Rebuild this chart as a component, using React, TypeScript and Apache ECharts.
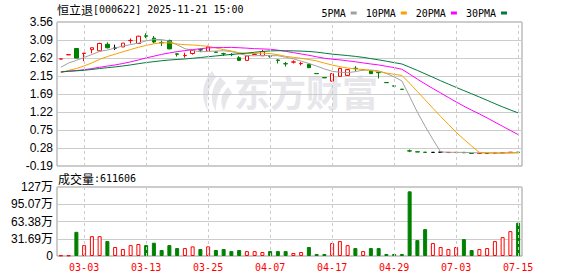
import React, { useEffect, useRef } from 'react';
import * as echarts from 'echarts';

// ---------- data ----------
const dates = [
  '02-26', '02-27', '02-28', '03-03', '03-04', '03-05', '03-06', '03-07', '03-10', '03-11',
  '03-12', '03-13', '03-14', '03-17', '03-18', '03-19', '03-20', '03-21', '03-24', '03-25',
  '03-26', '03-27', '03-28', '03-31', '04-01', '04-02', '04-03', '04-07', '04-08', '04-09',
  '04-10', '04-11', '04-14', '04-15', '04-16', '04-17', '04-18', '04-21', '04-22', '04-23',
  '04-24', '04-25', '04-28', '04-29', '04-30', '06-25', '06-26', '06-27', '06-30', '07-01',
  '07-02', '07-03', '07-04', '07-07', '07-08', '07-09', '07-10', '07-11', '07-14', '07-15',
];
const labelDates = ['03-03', '03-13', '03-25', '04-07', '04-17', '04-29', '07-03', '07-15'];

const opens = [
  2.595, 2.705, 2.87, 2.74, 2.84, 2.81, 2.98, 2.88, 2.91, 3.075,
  3.0, 3.2, 3.14, 3.025, 3.08, 2.73, 2.685, 2.74, 2.84, 2.8,
  2.78, 2.735, 2.715, 2.63, 2.56, 2.715, 2.68, 2.68, 2.57, 2.475,
  2.515, 2.475, 2.46, 2.22, 2.115, 2.02, 2.145, 2.17, 2.355, 2.315,
  2.29, 2.25, 1.985, 1.895, 1.81, 0.205, 0.18, 0.17, 0.165, 0.17,
  0.16, 0.16, 0.165, 0.14, 0.135, 0.135, 0.14, 0.15, 0.16, 0.17,
];
const closes = [
  2.6, 2.71, 2.62, 2.75, 2.89, 3.0, 2.89, 2.88, 3.01, 3.08,
  3.19, 3.19, 3.04, 3.02, 2.86, 2.72, 2.69, 2.82, 2.83, 2.91,
  2.77, 2.73, 2.71, 2.56, 2.675, 2.72, 2.79, 2.67, 2.56, 2.47,
  2.52, 2.48, 2.37, 2.215, 2.105, 2.215, 2.35, 2.32, 2.345, 2.32,
  2.215, 2.24, 1.98, 1.89, 1.805, 0.2, 0.175, 0.165, 0.165, 0.17,
  0.165, 0.165, 0.155, 0.135, 0.14, 0.135, 0.15, 0.16, 0.17, 0.165,
];
const lows = [
  2.595, 2.705, 2.62, 2.54, 2.745, 2.8, 2.87, 2.83, 2.91, 3.0,
  3.0, 3.14, 3.005, 2.935, 2.85, 2.66, 2.63, 2.71, 2.78, 2.79,
  2.76, 2.675, 2.67, 2.55, 2.555, 2.7, 2.675, 2.63, 2.48, 2.4,
  2.48, 2.43, 2.36, 2.215, 2.105, 2.01, 2.14, 2.16, 2.28, 2.31,
  2.21, 2.09, 1.98, 1.89, 1.805, 0.17, 0.175, 0.165, 0.165, 0.17,
  0.16, 0.16, 0.155, 0.135, 0.135, 0.135, 0.14, 0.15, 0.16, 0.165,
];
const highs = [
  2.6, 2.71, 2.87, 2.75, 2.89, 3.02, 3.03, 2.97, 3.01, 3.13,
  3.2, 3.265, 3.195, 3.075, 3.1, 2.74, 2.76, 2.83, 2.87, 2.94,
  2.79, 2.76, 2.75, 2.67, 2.68, 2.74, 2.84, 2.68, 2.59, 2.52,
  2.56, 2.52, 2.48, 2.22, 2.115, 2.22, 2.37, 2.33, 2.41, 2.33,
  2.3, 2.255, 1.985, 1.895, 1.81, 0.24, 0.18, 0.17, 0.165, 0.17,
  0.165, 0.165, 0.165, 0.14, 0.14, 0.135, 0.15, 0.16, 0.17, 0.17,
];
// closes of the 29 sessions before the window (needed for the moving averages)
const priorCloses = [
  2.22, 2.25, 2.28, 2.3, 2.27, 2.24, 2.26, 2.29, 2.25, 2.24,
  2.3, 2.33, 2.31, 2.28, 2.32, 2.29, 2.26, 2.27, 2.24, 2.2, 2.11,
  2.14, 2.08, 2.1, 2.06,
  2.16, 2.27, 2.38, 2.5,
];
// volume, 万手
const volumes = [
  1.0, 1.0, 44.4, 20.0, 36.5, 36.5, 27.4, 16.5, 12.8, 20.0,
  22.0, 20.0, 24.4, 11.0, 20.0, 14.6, 14.6, 17.7, 12.8, 17.7,
  11.0, 12.8, 9.0, 11.0, 9.0, 9.0, 7.3, 9.0, 9.0, 9.0,
  5.5, 7.3, 16.5, 3.7, 3.7, 23.8, 27.4, 20.0, 14.6, 9.0,
  14.6, 14.6, 3.7, 3.7, 3.7, 118.8, 29.2, 49.4, 23.8, 16.5,
  12.8, 16.5, 31.0, 11.0, 12.8, 14.6, 27.4, 34.7, 45.7, 61.1606,
];
const priceTickLabels = ['-0.19', '0.28', '0.75', '1.22', '1.69', '2.15', '2.62', '3.09', '3.56'];
const volTickLabels = ['0', '31.69万', '63.38万', '95.07万', '127万'];
const maPeriods = [5, 10, 20, 30];
const maNames = ['5PMA', '10PMA', '20PMA', '30PMA'];
const maColors = ['#a0a0a0', '#f5a300', '#ff00ff', '#007a3d'];

// ---------- helpers ----------
const PRICE_MIN = -0.19;
const PRICE_STEP = 0.46875;
const VOL_STEP = 31.69;
const RED = '#ff0000';
const GREEN = '#008000';
const MONO = "'DejaVu Sans Mono', monospace";
const CJK = "'Noto Sans CJK SC', sans-serif";
const SANS = "'Liberation Sans', 'Noto Sans CJK SC', sans-serif";

const shift = (p: number) => +(p - PRICE_MIN).toFixed(4);

function movingAverage(n: number): number[] {
  const all = priorCloses.concat(closes);
  const base = priorCloses.length;
  return closes.map((_, i) => {
    let s = 0;
    for (let k = base + i - n + 1; k <= base + i; k++) s += all[k];
    return shift(s / n);
  });
}

const logoPath =
  'M14 0 C4 12 2 26 10 40 C8 28 10 16 18 6 Z M22 6 C12 18 12 30 18 40 C18 30 20 20 28 12 Z M30 16 C22 24 22 32 26 40 C28 32 30 26 34 22 Z';
let logoRegistered = false;

export default function App() {
  const ref = useRef<HTMLDivElement>(null);

  useEffect(() => {
    if (!ref.current) return;
    if (!logoRegistered) {
      echarts.graphic.registerShape('emlogo', echarts.graphic.extendPath(logoPath, {}));
      logoRegistered = true;
    }
    const chart = echarts.init(ref.current, undefined, { renderer: 'svg' });

    const candleData = opens.map((o, i) => [shift(o), shift(closes[i]), shift(lows[i]), shift(highs[i])]);
    const volData = volumes.map((v, i) => ({
      value: v,
      itemStyle:
        closes[i] >= opens[i]
          ? { color: '#ffffff', borderColor: RED, borderWidth: 1 }
          : { color: GREEN, borderColor: GREEN, borderWidth: 1 },
    }));
    const vLines = labelDates.map((d) => ({ xAxis: d }));
    const markLineStyle = {
      silent: true,
      symbol: ['none', 'none'],
      label: { show: false },
      lineStyle: { color: '#cccccc', type: [3, 3] as any, width: 1 },
      data: vLines,
      animation: false,
    };

    const lastVol = Math.round(volumes[volumes.length - 1] * 10000);

    chart.setOption({
      animation: false,
      backgroundColor: '#ffffff',
      legend: {
        data: maNames,
        right: 66,
        top: 3,
        icon: 'rect',
        itemWidth: 6,
        itemHeight: 3,
        itemGap: 9,
        align: 'right',
        selectedMode: false,
        textStyle: { fontFamily: MONO, fontSize: 10, color: '#000' },
      },
      grid: [
        { left: 57, right: 56, top: 22, height: 144, show: true, borderColor: '#999', borderWidth: 1 },
        { left: 57, right: 56, top: 187, height: 69, show: true, borderColor: '#999', borderWidth: 1 },
      ],
      xAxis: [
        {
          type: 'category',
          gridIndex: 0,
          data: dates,
          boundaryGap: true,
          axisLine: { show: false },
          axisTick: { show: false },
          axisLabel: { show: false },
          splitLine: { show: false },
        },
        {
          type: 'category',
          gridIndex: 1,
          data: dates,
          boundaryGap: true,
          axisLine: { show: false },
          axisTick: { show: false },
          splitLine: { show: false },
          axisLabel: {
            interval: (_i: number, v: string) => labelDates.includes(v),
            color: RED,
            fontFamily: MONO,
            fontSize: 10,
            margin: 6,
          },
        },
      ],
      yAxis: [
        {
          type: 'value',
          gridIndex: 0,
          min: 0,
          max: 8 * PRICE_STEP,
          interval: PRICE_STEP,
          axisLine: { show: false },
          axisTick: { show: false },
          splitLine: { show: true, lineStyle: { color: '#cccccc', width: 1 } },
          axisLabel: {
            formatter: (v: number) => priceTickLabels[Math.round(v / PRICE_STEP)] ?? '',
            color: '#000',
            fontFamily: SANS,
            fontSize: 12,
            margin: 4,
          },
        },
        {
          type: 'value',
          gridIndex: 1,
          min: 0,
          max: 4 * VOL_STEP,
          interval: VOL_STEP,
          axisLine: { show: false },
          axisTick: { show: false },
          splitLine: { show: true, lineStyle: { color: '#cccccc', width: 1 } },
          axisLabel: {
            formatter: (v: number) => volTickLabels[Math.round(v / VOL_STEP)] ?? '',
            color: '#000',
            fontFamily: SANS,
            fontSize: 12,
            margin: 4,
          },
        },
      ],
      graphic: [
        {
          type: 'emlogo',
          x: 198,
          y: 71,
          scaleX: 1,
          scaleY: 1,
          silent: true,
          z: 0,
          style: { fill: '#e6e6eb' },
        },
        {
          type: 'text',
          x: 234,
          y: 91,
          silent: true,
          z: 0,
          style: {
            text: '东方财富',
            fill: '#e6e6eb',
            font: `bold 36px ${CJK}`,
            verticalAlign: 'middle',
          },
        },
        {
          type: 'text',
          x: 57,
          y: 9,
          silent: true,
          style: {
            text: '{a|恒立退}{b|[000622] 2025-11-21 15:00}',
            verticalAlign: 'middle',
            rich: {
              a: { fontFamily: CJK, fontSize: 12, fill: '#000', color: '#000' },
              b: { fontFamily: MONO, fontSize: 10, fill: '#000', color: '#000' },
            },
          },
        },
        {
          type: 'text',
          x: 58,
          y: 178,
          silent: true,
          style: {
            text: `{a|成交量}{b|:${lastVol}}`,
            verticalAlign: 'middle',
            rich: {
              a: { fontFamily: CJK, fontSize: 12, fill: '#000', color: '#000' },
              b: { fontFamily: MONO, fontSize: 10, fill: '#000', color: '#000' },
            },
          },
        },
      ],
      series: [
        {
          name: 'K',
          type: 'candlestick',
          xAxisIndex: 0,
          yAxisIndex: 0,
          data: candleData,
          barWidth: 4,
          z: 2,
          itemStyle: {
            color: '#ffffff',
            color0: GREEN,
            borderColor: RED,
            borderColor0: GREEN,
            borderColorDoji: '#000000',
            borderWidth: 1,
          },
          markLine: markLineStyle,
        },
        ...maPeriods.map((n, k) => ({
          name: maNames[k],
          type: 'line',
          xAxisIndex: 0,
          yAxisIndex: 0,
          data: movingAverage(n),
          symbol: 'none',
          smooth: false,
          z: 3,
          lineStyle: { width: 1, color: maColors[k] },
          itemStyle: { color: maColors[k] },
        })),
        {
          name: 'VOL',
          type: 'bar',
          xAxisIndex: 1,
          yAxisIndex: 1,
          data: volData,
          barWidth: 4,
          markLine: markLineStyle,
        },
      ],
    });

    return () => chart.dispose();
  }, []);

  return (
    <div
      ref={ref}
      style={{ position: 'fixed', left: 0, top: 0, width: 578, height: 276, background: '#fff' }}
    />
  );
}
